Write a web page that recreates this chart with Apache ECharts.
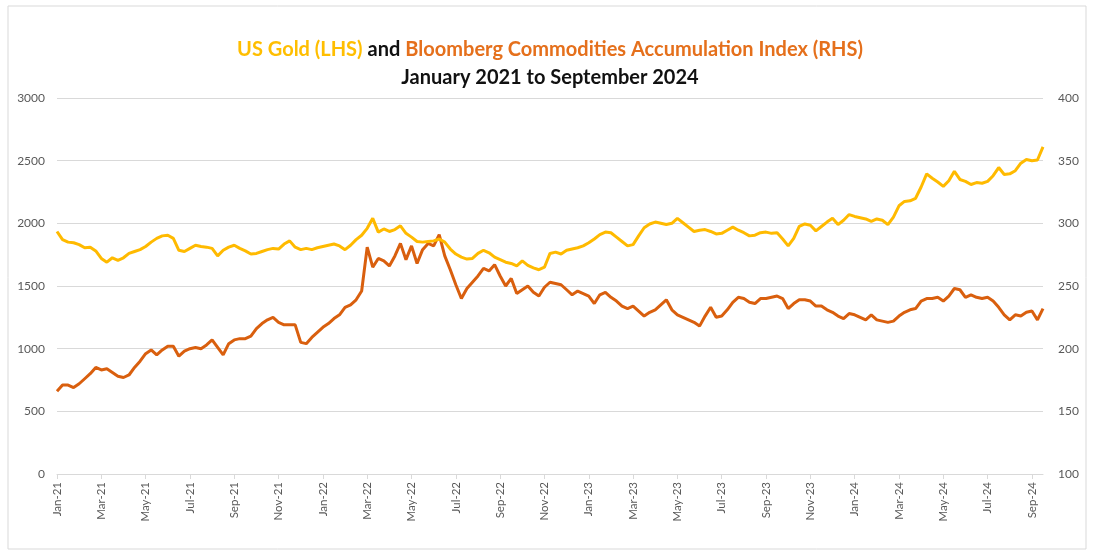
<!DOCTYPE html>
<html>
<head>
<meta charset="utf-8">
<script src="https://cdn.jsdelivr.net/npm/echarts@6/dist/echarts.min.js"></script>
<style>
html,body{margin:0;padding:0;background:#fff;}
#chart{width:1100px;height:556px;}
</style>
</head>
<body>
<div id="chart"></div>
<script>
// Quarter-month samples from Jan 2021 (index i -> month i/4)
const MONTHS = ['Jan','Feb','Mar','Apr','May','Jun','Jul','Aug','Sep','Oct','Nov','Dec'];
const leftTicks = [0, 500, 1000, 1500, 2000, 2500, 3000];
const rightTicks = [100, 150, 200, 250, 300, 350, 400];

const gold = [
1935,1870,1850,1845,1830,1805,1810,1780,1720,1690,1725,1705,1725,1760,1775,1790,
1815,1850,1880,1900,1905,1880,1785,1775,1800,1825,1815,1810,1800,1740,1785,1810,
1825,1800,1780,1755,1760,1775,1790,1800,1795,1835,1860,1810,1790,1800,1790,1805,
1815,1825,1835,1820,1790,1825,1870,1905,1960,2040,1930,1955,1935,1950,1980,1920,
1890,1855,1850,1855,1860,1875,1850,1795,1755,1730,1715,1720,1760,1785,1765,1730,
1710,1690,1680,1660,1700,1665,1645,1630,1650,1760,1770,1755,1785,1795,1805,1820,
1845,1875,1910,1930,1925,1890,1855,1820,1830,1900,1965,1995,2010,2000,1990,2000,
2040,2005,1970,1935,1945,1950,1935,1915,1920,1945,1970,1945,1925,1900,1905,1925,
1930,1920,1925,1875,1820,1880,1975,1995,1985,1940,1975,2010,2040,1990,2025,2070,
2055,2045,2035,2015,2035,2025,1990,2050,2140,2175,2180,2200,2290,2395,2360,2330,
2295,2340,2415,2350,2335,2310,2325,2320,2335,2380,2445,2390,2395,2420,2480,2510,
2500,2505,2610
];

const bcom = [
166,171,171,169,172,176,180,185,183,184,181,178,177,179,185,190,
196,199,195,199,202,202,194,198,200,201,200,203,207,201,195,204,
207,208,208,210,216,220,223,225,221,219,219,219,205,204,209,213,
217,220,224,227,233,235,239,246,281,265,272,270,266,274,284,271,
282,268,279,284,282,291,274,263,251,240,248,253,258,264,262,267,
258,250,256,244,247,250,245,242,249,253,252,251,247,243,246,244,
242,236,243,245,241,238,234,232,234,230,226,229,231,235,239,231,
227,225,223,221,218,226,233,225,226,231,237,241,240,237,236,240,
240,241,242,240,232,236,239,239,238,234,234,231,229,226,224,228,
227,225,223,227,223,222,221,222,226,229,231,232,238,240,240,241,
238,242,248,247,241,243,241,240,241,238,233,227,223,227,226,229,
230,223,232
];

const categories = gold.map(function (_, i) {
  const m = Math.floor(i / 4);
  return MONTHS[m % 12] + '-' + (21 + Math.floor(m / 12));
});

const chart = echarts.init(document.getElementById('chart'), null, {renderer: 'canvas'});
const axisFont = 'Lato, "Open Sans", sans-serif';
chart.setOption({
  animation: false,
  backgroundColor: '#ffffff',
  title: [
    {
      text: '{g|US Gold (LHS)} {k|and} {o|Bloomberg Commodities Accumulation Index (RHS)}',
      left: 'center',
      top: 35,
      textStyle: {
        rich: {
          g: {color: '#FFBE00', fontSize: 20, fontWeight: 'bold', fontFamily: axisFont},
          k: {color: '#111111', fontSize: 20, fontWeight: 'bold', fontFamily: axisFont},
          o: {color: '#E5701C', fontSize: 20, fontWeight: 'bold', fontFamily: axisFont}
        }
      }
    },
    {
      text: 'January 2021 to September 2024',
      left: 'center',
      top: 63,
      textStyle: {color: '#111111', fontSize: 20, fontWeight: 'bold', fontFamily: axisFont}
    }
  ],
  graphic: [{
    type: 'rect',
    shape: {x: 8, y: 6, width: 1078, height: 543},
    style: {fill: 'none', stroke: '#D9D9D9', lineWidth: 1},
    silent: true
  }],
  grid: {left: 57, right: 57, top: 98, bottom: 82, containLabel: false},
  xAxis: {
    type: 'category',
    data: categories,
    boundaryGap: false,
    axisLine: {lineStyle: {color: '#D9D9D9', width: 1}},
    axisTick: {
      show: true,
      length: 5,
      interval: function (i) { return i % 8 === 0; },
      lineStyle: {color: '#D9D9D9'}
    },
    axisLabel: {
      rotate: 90,
      margin: 8,
      interval: function (i) { return i % 8 === 0; },
      color: '#595959',
      fontSize: 11.5,
      fontFamily: axisFont
    },
    splitLine: {show: false}
  },
  yAxis: [
    {
      type: 'value',
      min: leftTicks[0],
      max: leftTicks[leftTicks.length - 1],
      interval: leftTicks[1] - leftTicks[0],
      axisLine: {show: false},
      axisTick: {show: false},
      axisLabel: {
        color: '#595959', fontSize: 12, margin: 12, fontFamily: axisFont,
        formatter: function (v) { return String(v); }
      },
      splitLine: {show: true, lineStyle: {color: '#D9D9D9', width: 1}}
    },
    {
      type: 'value',
      min: rightTicks[0],
      max: rightTicks[rightTicks.length - 1],
      interval: rightTicks[1] - rightTicks[0],
      axisLine: {show: false},
      axisTick: {show: false},
      axisLabel: {
        color: '#595959', fontSize: 12, margin: 15, fontFamily: axisFont,
        formatter: function (v) { return String(v); }
      },
      splitLine: {show: false}
    }
  ],
  series: [
    {
      name: 'US Gold (LHS)',
      type: 'line',
      yAxisIndex: 0,
      data: gold,
      showSymbol: false,
      lineStyle: {color: '#FFBA00', width: 3},
      itemStyle: {color: '#FFBA00'},
      z: 3
    },
    {
      name: 'Bloomberg Commodities Accumulation Index (RHS)',
      type: 'line',
      yAxisIndex: 1,
      data: bcom,
      showSymbol: false,
      lineStyle: {color: '#D95F0E', width: 3},
      itemStyle: {color: '#D95F0E'},
      z: 2
    }
  ]
});
</script>
</body>
</html>
